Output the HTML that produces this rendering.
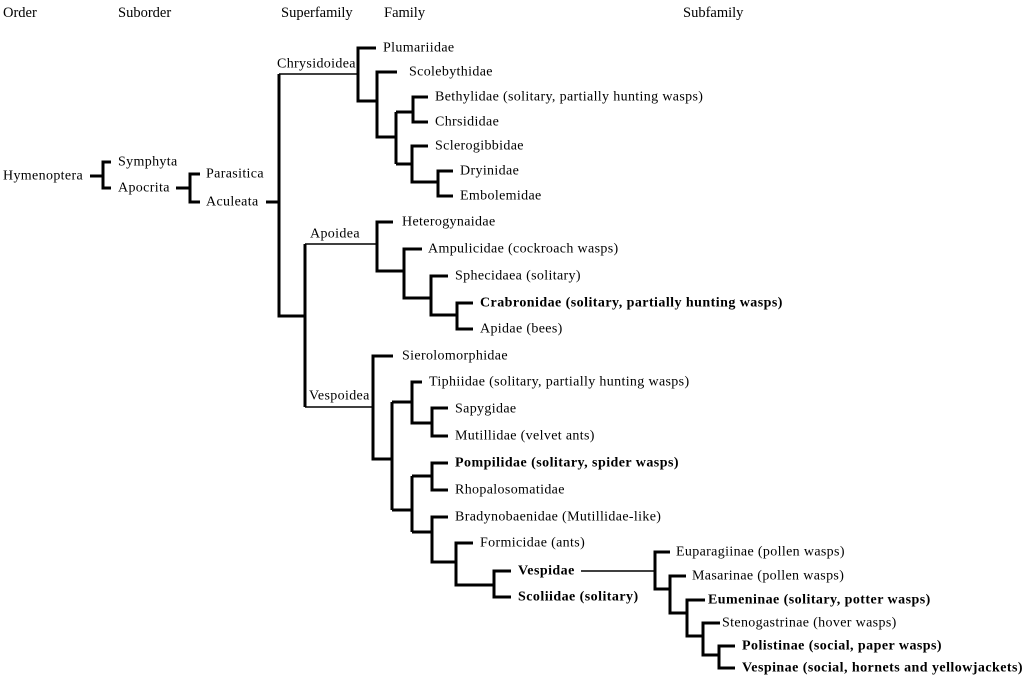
<!DOCTYPE html>
<html><head><meta charset="utf-8"><style>
html,body{margin:0;padding:0;background:#fff;}
svg{display:block;font-family:"Liberation Serif","DejaVu Serif",serif;}
text{font-family:"Liberation Serif","DejaVu Serif",serif;font-size:14px;letter-spacing:0.35px;fill:#000;dominant-baseline:central;}
.b{font-weight:bold;letter-spacing:0.45px;}
.h{font-size:14.5px;letter-spacing:0;}
</style></head><body>
<svg width="1024" height="683" viewBox="0 0 1024 683" xmlns="http://www.w3.org/2000/svg" font-family="Liberation Serif, DejaVu Serif, serif">
<g fill="none" stroke="#000" stroke-width="3" stroke-linecap="butt" stroke-linejoin="miter">
<path d="M90 176H103M111 162H103V188H111"/>
<path d="M176 188H190M200 174H190V202H200"/>
<path d="M266 202H279M279 74V316H305M305 244V407"/>
<path d="M376 48H358V101H377M397 72H377V137H396M396 112V164"/>
<path d="M396 112H413M428 97H413V122H428"/>
<path d="M396 164H412M428 146H412V182H438M453 171H438V196H453"/>
<path d="M393 222H377V271H404M422 249H404V298H431M448 276H431V315H457M473 303H457V329H473"/>
<path d="M393 356H373V459H392M392 402V510"/>
<path d="M392 402H412M422 382H412V423H432M448 408H432V436H448"/>
<path d="M392 510H412M412 476V532"/>
<path d="M412 476H432M448 463H432V490H448"/>
<path d="M412 532H432M448 517H432V562H456M473 543H456V585H494M511 571H494V597H511"/>
<path d="M670 552H655V589H670M686 576H670V613H687M705 600H687V636H703M720 623H703V655H719M735 646H719V668H735"/>
</g>
<g fill="none" stroke="#000" stroke-width="1.6">
<path d="M279 74H358"/>
<path d="M305 244H377"/>
<path d="M305 407H373"/>
<path d="M581 571H655"/>
</g>
<text class="h" x="3" y="13">Order</text>
<text class="h" x="118" y="13">Suborder</text>
<text class="h" x="281" y="13">Superfamily</text>
<text class="h" x="384" y="13">Family</text>
<text class="h" x="683" y="13">Subfamily</text>
<text x="3" y="176">Hymenoptera</text>
<text x="118" y="162">Symphyta</text>
<text x="118" y="188">Apocrita</text>
<text x="206" y="174">Parasitica</text>
<text x="206" y="202">Aculeata</text>
<text x="277" y="64">Chrysidoidea</text>
<text x="310" y="234">Apoidea</text>
<text x="309" y="396">Vespoidea</text>
<text x="383" y="48">Plumariidae</text>
<text x="409" y="72">Scolebythidae</text>
<text x="435" y="97">Bethylidae (solitary, partially hunting wasps)</text>
<text x="435" y="122">Chrsididae</text>
<text x="435" y="146">Sclerogibbidae</text>
<text x="460" y="171">Dryinidae</text>
<text x="460" y="196">Embolemidae</text>
<text x="402" y="222">Heterogynaidae</text>
<text x="428" y="249">Ampulicidae (cockroach wasps)</text>
<text x="455" y="276">Sphecidaea (solitary)</text>
<text class="b" x="480" y="303">Crabronidae (solitary, partially hunting wasps)</text>
<text x="480" y="329">Apidae (bees)</text>
<text x="402" y="356">Sierolomorphidae</text>
<text x="429" y="382">Tiphiidae (solitary, partially hunting wasps)</text>
<text x="455" y="409">Sapygidae</text>
<text x="455" y="436">Mutillidae (velvet ants)</text>
<text class="b" x="455" y="463">Pompilidae (solitary, spider wasps)</text>
<text x="455" y="490">Rhopalosomatidae</text>
<text x="455" y="517">Bradynobaenidae (Mutillidae-like)</text>
<text x="480" y="543">Formicidae (ants)</text>
<text class="b" x="518" y="571">Vespidae</text>
<text class="b" x="518" y="597">Scoliidae (solitary)</text>
<text x="676" y="552">Euparagiinae (pollen wasps)</text>
<text x="692" y="576">Masarinae (pollen wasps)</text>
<text class="b" x="708" y="600">Eumeninae (solitary, potter wasps)</text>
<text x="722" y="623">Stenogastrinae (hover wasps)</text>
<text class="b" x="742" y="646">Polistinae (social, paper wasps)</text>
<text class="b" x="742" y="668">Vespinae (social, hornets and yellowjackets)</text>
</svg>
</body></html>
